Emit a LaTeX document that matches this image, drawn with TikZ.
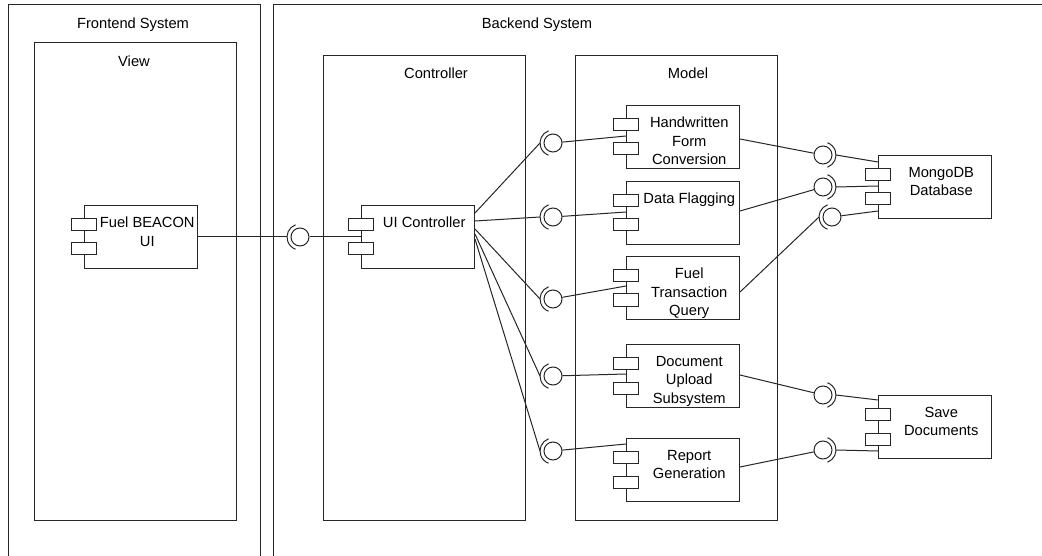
\documentclass[tikz,border=0pt]{standalone}
\usepackage{fontspec}
\setmainfont{Liberation Sans}
\newcommand\txtfont{\fontsize{14.7}{18.5}\selectfont}
% component: name, x, y (top-left), text
\newcommand\mycomp[4]{%
  \node[compbox] (#1) at (#2,#3) {};
  \node[port] (#1p1) at ([yshift=-19.5pt]#1.north west) {};
  \node[port] (#1p2) at ([yshift=-44pt]#1.north west) {};
  \node[comptext] (#1t) at ([xshift=6.25pt,yshift=-11.4pt]#1.north) {#4};
}
% lollipop with socket on the left
\newcommand\lolL[3]{%
  \node[ball] (#1) at (#2,#3) {};
  \draw[wire] ([shift={(110:13pt)}]#1.center) arc[start angle=110, end angle=250, radius=13pt];
  \coordinate (#1s) at ([xshift=-13pt]#1.center);
}
% lollipop with socket on the right
\newcommand\lolR[3]{%
  \node[ball] (#1) at (#2,#3) {};
  \draw[wire] ([shift={(-70:13pt)}]#1.center) arc[start angle=-70, end angle=70, radius=13pt];
  \coordinate (#1s) at ([xshift=13pt]#1.center);
}
\begin{document}
\begin{tikzpicture}[x=1pt,y=-1pt,line width=1pt,
  wire/.style={draw=black!85, line width=1pt},
  frame/.style={draw=black!85, line width=1pt},
  box/.style={draw=black!85, minimum width=202pt, minimum height=465pt, inner sep=0pt, anchor=north west},
  compbox/.style={draw=black!85, fill=white, minimum width=113pt, minimum height=63pt, inner sep=0pt, anchor=north west},
  port/.style={draw=black!85, fill=white, minimum width=25pt, minimum height=12pt, inner sep=0pt},
  comptext/.style={font=\txtfont, align=center, inner sep=0pt, anchor=north},
  title/.style={font=\txtfont, inner sep=0pt, anchor=base},
  ball/.style={draw=black!85, circle, minimum size=18pt, inner sep=0pt}]
\fill[white] (0,0) rectangle (1042,556);
\useasboundingbox (0,0) rectangle (1042,556);

% outer systems (open at bottom / right)
\draw[frame] (8,556) -- (8,5) -- (260,5) -- (260,556);
\draw[frame] (273,556) -- (273,5) -- (1042,5);
\node[title] (tfront) at (133,29) {Frontend System};
\node[title] (tback) at (537,29) {Backend System};

% layers
\node[box, minimum height=478pt] (view) at (34,42) {};
\node[title] (tview) at (134,67) {View};
\node[box] (ctrl) at (323,55) {};
\node[title] (tctrl) at (436,79) {Controller};
\node[box] (model) at (575,55) {};
\node[title] (tmodel) at (688,79) {Model};

% components
\mycomp{fb}{84}{205}{Fuel BEACON\\UI}
\mycomp{uic}{361}{205}{UI Controller}
\mycomp{hw}{626}{105}{Handwritten\\Form\\Conversion}
\mycomp{df}{626}{181}{Data Flagging}
\mycomp{ftq}{626}{256}{Fuel\\Transaction\\Query}
\mycomp{dus}{626}{344}{Document\\Upload\\Subsystem}
\mycomp{rg}{626}{438}{Report\\Generation}
\mycomp{mdb}{878}{155}{MongoDB\\Database}
\mycomp{sd}{878}{395}{Save\\Documents}

% interfaces
\lolL{b0}{300}{237}
\lolL{b1}{553}{143}
\lolL{b2}{553}{217}
\lolL{b3}{553}{299}
\lolL{b4}{553}{376}
\lolL{b5}{553}{451}
\lolR{b6}{823}{155}
\lolR{b7}{823}{187}
\lolL{b8}{832}{217}
\lolR{b9}{823}{395}
\lolR{b10}{823}{450}

% view -> controller
\draw[wire] (fb.east) -- (b0s);
\draw[wire] (b0) -- (uic.west);

% controller -> model
\draw[wire] ([yshift=-8pt]uic.north east) -- (b1s);
\draw[wire] ([yshift=-16pt]uic.north east) -- (b2s);
\draw[wire] ([yshift=-24pt]uic.north east) -- (b3s);
\draw[wire] ([yshift=-29pt]uic.north east) -- (b4s);
\draw[wire] ([yshift=-34pt]uic.north east) -- (b5s);
\draw[wire] (b1) -- ([yshift=-31pt]hw.north west);
\draw[wire] (b2) -- ([yshift=-31pt]df.north west);
\draw[wire] (b3) -- ([yshift=-30pt]ftq.north west);
\draw[wire] (b4) -- ([yshift=-30pt]dus.north west);
\draw[wire] (b5) -- ([yshift=-6pt]rg.north west);

% model -> MongoDB
\draw[wire] ([yshift=-34pt]hw.north east) -- (b6);
\draw[wire] (b6s) -- ([yshift=-7pt]mdb.north west);
\draw[wire] ([yshift=-30pt]df.north east) -- (b7);
\draw[wire] (b7s) -- ([yshift=-31pt]mdb.north west);
\draw[wire] ([yshift=-36pt]ftq.north east) -- (b8s);
\draw[wire] (b8) -- ([yshift=-56pt]mdb.north west);

% model -> Save Documents
\draw[wire] ([yshift=-31pt]dus.north east) -- (b9);
\draw[wire] (b9s) -- ([yshift=-5pt]sd.north west);
\draw[wire] ([yshift=-29pt]rg.north east) -- (b10);
\draw[wire] (b10s) -- ([yshift=-56pt]sd.north west);
\end{tikzpicture}
\end{document}
